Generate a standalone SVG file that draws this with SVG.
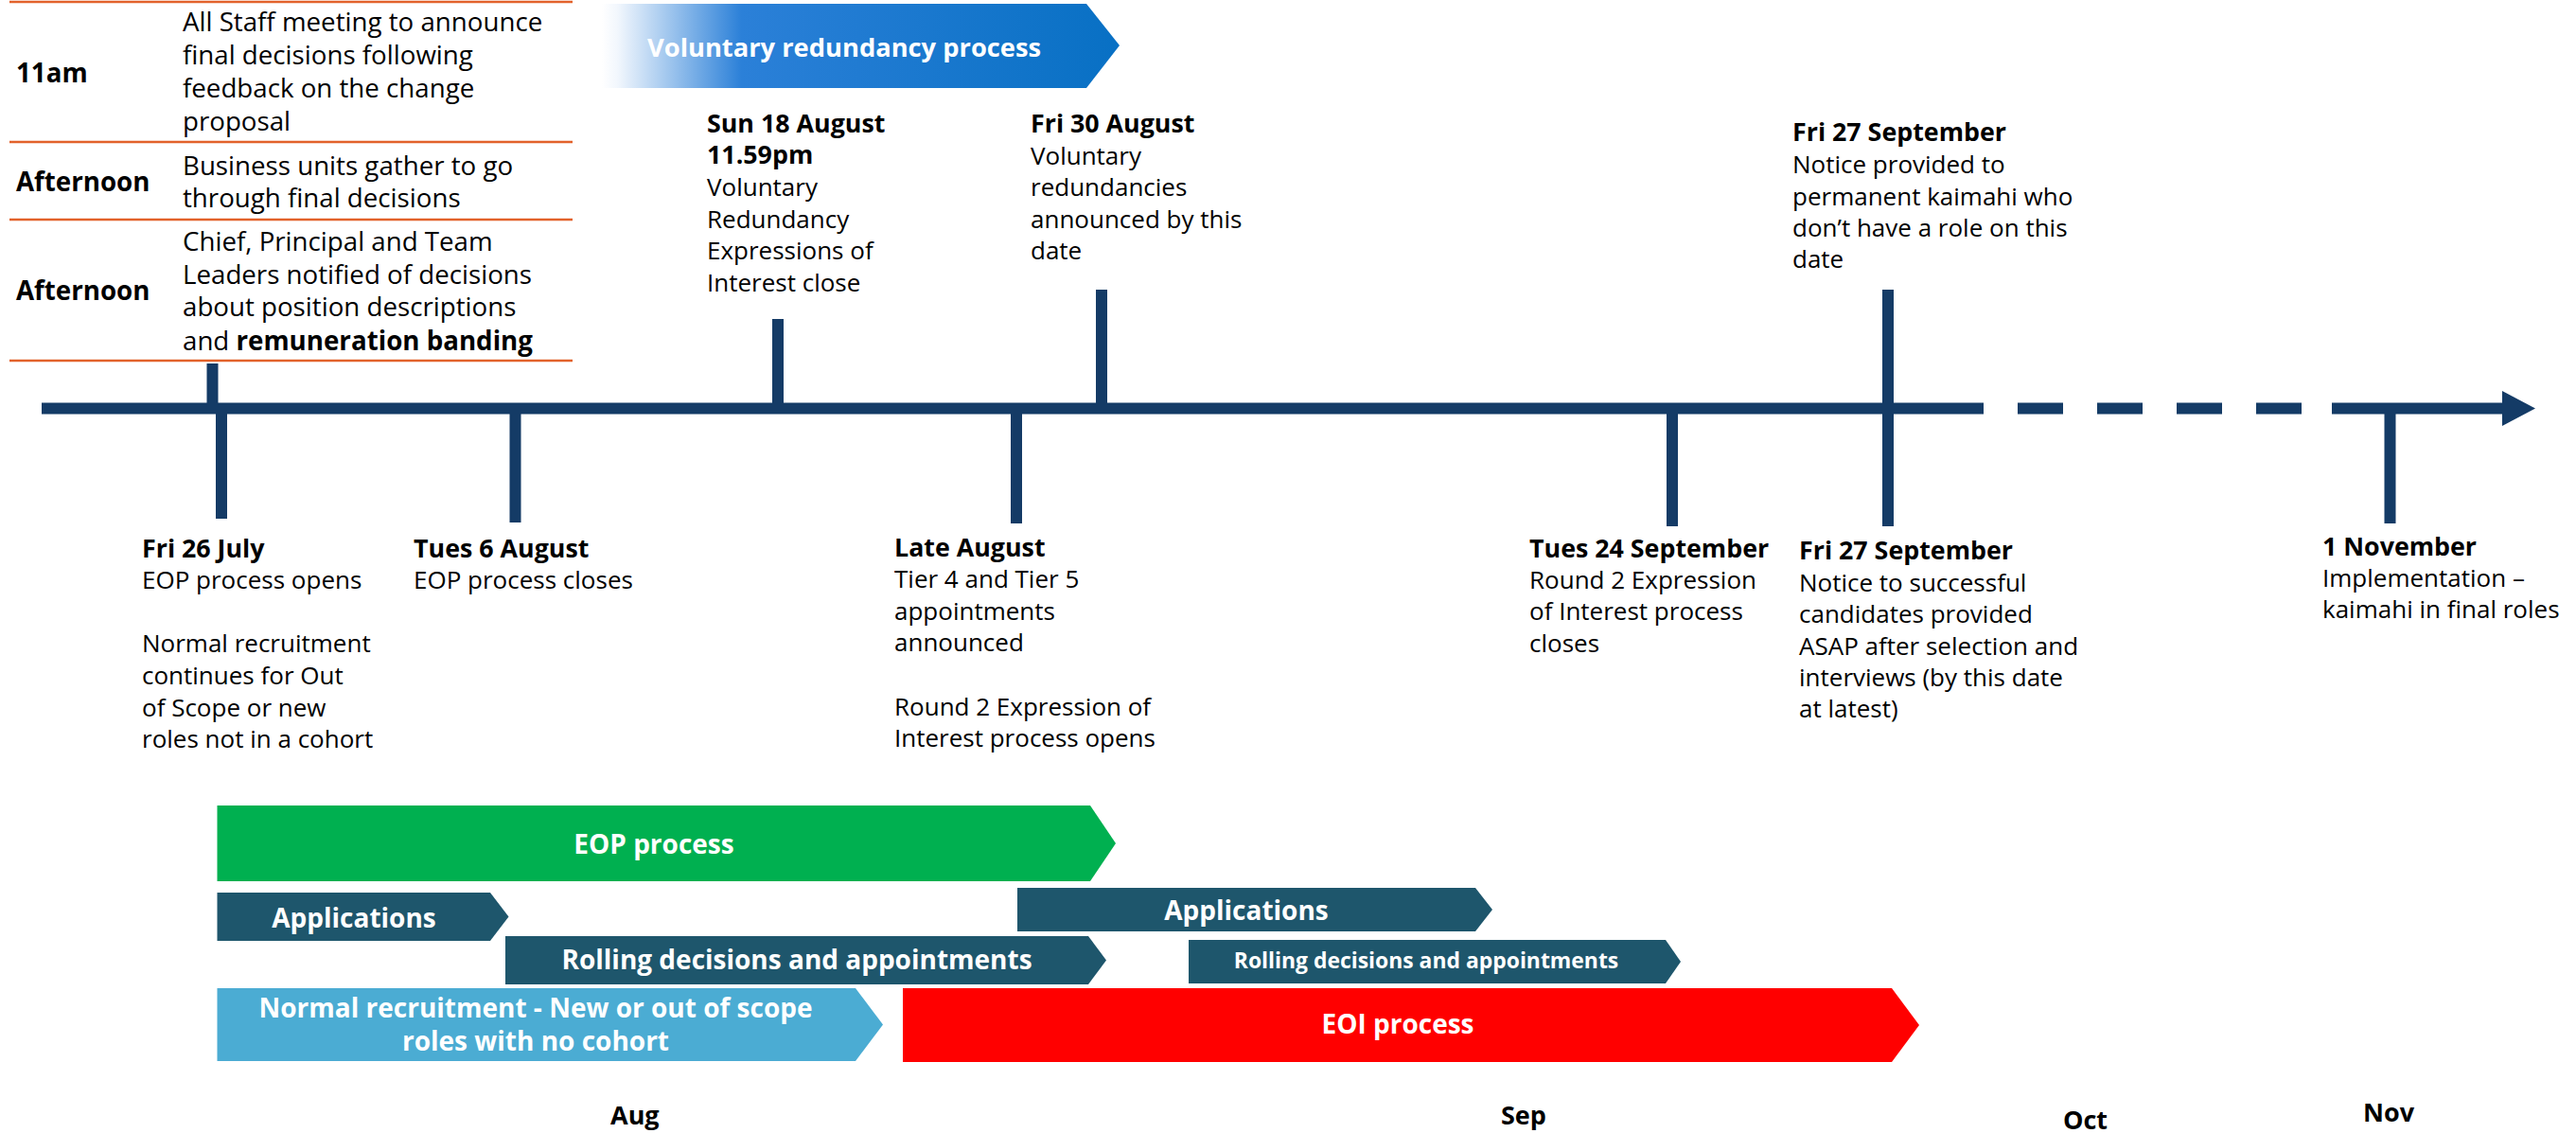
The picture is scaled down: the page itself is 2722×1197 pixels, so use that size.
<svg xmlns="http://www.w3.org/2000/svg" width="2722" height="1197" viewBox="0 0 2722 1197">
  <defs>
    <linearGradient id="vrGrad" x1="636" y1="0" x2="1183" y2="0" gradientUnits="userSpaceOnUse">
      <stop offset="0" stop-color="#ffffff"/>
      <stop offset="0.03" stop-color="#f2f7fd"/>
      <stop offset="0.27" stop-color="#2b80d8"/>
      <stop offset="1" stop-color="#0870c4"/>
    </linearGradient>
    <style>
      text { font-family: "Open Sans", "Noto Sans", "Liberation Sans", sans-serif; }
      .t { font-size: 26px; fill: #000; }
      .b { font-weight: 700; }
      .h { font-size: 26.8px; font-weight: 700; }
      .tbl { font-size: 27.7px; fill: #000; }
      .bar { font-size: 28px; font-weight: 700; fill: #fff; text-anchor: middle; }
      .rule { stroke: #e2622b; stroke-width: 2.5; }
      .navy { fill: #143b66; }
      .teal { fill: #1e566c; }
      .month { font-size: 27px; font-weight: 700; fill: #000; }
    </style>
  </defs>
  <rect width="2722" height="1197" fill="#ffffff"/>

  <!-- Announcement-day schedule -->
  <g id="schedule">
    <line class="rule" x1="10" y1="2" x2="605" y2="2"/>
    <line class="rule" x1="10" y1="150" x2="605" y2="150"/>
    <line class="rule" x1="10" y1="232" x2="605" y2="232"/>
    <line class="rule" x1="10" y1="381" x2="605" y2="381"/>
    <g id="row-11am">
      <text class="tbl b" x="17" y="87">11am</text>
      <text class="tbl" x="193" y="33">All Staff meeting to announce</text>
      <text class="tbl" x="193" y="68">final decisions following</text>
      <text class="tbl" x="193" y="103">feedback on the change</text>
      <text class="tbl" x="193" y="138">proposal</text>
    </g>
    <g id="row-afternoon-1">
      <text class="tbl b" x="17" y="202">Afternoon</text>
      <text class="tbl" x="193" y="185">Business units gather to go</text>
      <text class="tbl" x="193" y="219">through final decisions</text>
    </g>
    <g id="row-afternoon-2">
      <text class="tbl b" x="17" y="317">Afternoon</text>
      <text class="tbl" x="193" y="265">Chief, Principal and Team</text>
      <text class="tbl" x="193" y="300">Leaders notified of decisions</text>
      <text class="tbl" x="193" y="334">about position descriptions</text>
      <text class="tbl" x="193" y="370">and <tspan class="b">remuneration banding</tspan></text>
    </g>
  </g>

  <!-- Voluntary redundancy banner -->
  <g id="voluntary-redundancy">
    <polygon points="636,4 1148,4 1183,48 1148,93 636,93" fill="url(#vrGrad)"/>
    <text class="bar" style="text-anchor:start;font-size:27.3px" x="684" y="60">Voluntary redundancy process</text>
  </g>

  <!-- Timeline axis and date ticks -->
  <g id="connectors">
    <rect class="navy" x="44" y="425.5" width="2052" height="12"/>
    <rect class="navy" x="2132" y="425.5" width="48" height="12"/>
    <rect class="navy" x="2216" y="425.5" width="48" height="12"/>
    <rect class="navy" x="2300" y="425.5" width="48" height="12"/>
    <rect class="navy" x="2384" y="425.5" width="48" height="12"/>
    <rect class="navy" x="2464" y="425.5" width="182" height="12"/>
    <polygon class="navy" points="2644,413 2679,431.5 2644,450"/>
    <rect class="navy" x="218.5" y="384" width="12" height="47"/>
    <rect class="navy" x="228" y="431" width="12" height="117"/>
    <rect class="navy" x="538.5" y="431" width="12" height="121"/>
    <rect class="navy" x="816" y="337" width="12" height="94"/>
    <rect class="navy" x="1158" y="306" width="12" height="125"/>
    <rect class="navy" x="1068" y="431" width="12" height="122"/>
    <rect class="navy" x="1761" y="431" width="12" height="125"/>
    <rect class="navy" x="1989" y="306" width="12" height="250"/>
    <rect class="navy" x="2519.5" y="431" width="12" height="122"/>
  </g>

  <!-- Dated milestones above the axis -->
  <g id="sun-18-august">
    <text class="t h" x="747" y="140">Sun 18 August</text>
    <text class="t h" x="747" y="173">11.59pm</text>
    <text class="t" x="747" y="207">Voluntary</text>
    <text class="t" x="747" y="241">Redundancy</text>
    <text class="t" x="747" y="274">Expressions of</text>
    <text class="t" x="747" y="308">Interest close</text>
  </g>
  <g id="fri-30-august">
    <text class="t h" x="1089" y="140">Fri 30 August</text>
    <text class="t" x="1089" y="174">Voluntary</text>
    <text class="t" x="1089" y="207">redundancies</text>
    <text class="t" x="1089" y="241">announced by this</text>
    <text class="t" x="1089" y="274">date</text>
  </g>
  <g id="fri-27-september-notice">
    <text class="t h" x="1894" y="149">Fri 27 September</text>
    <text class="t" x="1894" y="183">Notice provided to</text>
    <text class="t" x="1894" y="217">permanent kaimahi who</text>
    <text class="t" x="1894" y="250">don’t have a role on this</text>
    <text class="t" x="1894" y="283">date</text>
  </g>

  <!-- Dated milestones below the axis -->
  <g id="fri-26-july">
    <text class="t h" x="150" y="589">Fri 26 July</text>
    <text class="t" x="150" y="622">EOP process opens</text>
    <text class="t" x="150" y="689">Normal recruitment</text>
    <text class="t" x="150" y="723">continues for Out</text>
    <text class="t" x="150" y="757">of Scope or new</text>
    <text class="t" x="150" y="790">roles not in a cohort</text>
  </g>
  <g id="tues-6-august">
    <text class="t h" x="437" y="589">Tues 6 August</text>
    <text class="t" x="437" y="622">EOP process closes</text>
  </g>
  <g id="late-august">
    <text class="t h" x="945" y="588">Late August</text>
    <text class="t" x="945" y="621">Tier 4 and Tier 5</text>
    <text class="t" x="945" y="655">appointments</text>
    <text class="t" x="945" y="688">announced</text>
    <text class="t" x="945" y="756">Round 2 Expression of</text>
    <text class="t" x="945" y="789">Interest process opens</text>
  </g>
  <g id="tues-24-september">
    <text class="t h" x="1616" y="589">Tues 24 September</text>
    <text class="t" x="1616" y="622">Round 2 Expression</text>
    <text class="t" x="1616" y="655">of Interest process</text>
    <text class="t" x="1616" y="689">closes</text>
  </g>
  <g id="fri-27-september-candidates">
    <text class="t h" x="1901" y="591">Fri 27 September</text>
    <text class="t" x="1901" y="625">Notice to successful</text>
    <text class="t" x="1901" y="658">candidates provided</text>
    <text class="t" x="1901" y="692">ASAP after selection and</text>
    <text class="t" x="1901" y="725">interviews (by this date</text>
    <text class="t" x="1901" y="758">at latest)</text>
  </g>
  <g id="1-november">
    <text class="t h" x="2454" y="587">1 November</text>
    <text class="t" x="2454" y="620">Implementation –</text>
    <text class="t" x="2454" y="653">kaimahi in final roles</text>
  </g>

  <!-- Process bars -->
  <g id="eop-process">
    <polygon points="229.5,851 1152,851 1179,891 1152,931 229.5,931" fill="#00b050"/>
    <text class="bar" x="691" y="902">EOP process</text>
  </g>
  <g id="eop-applications">
    <polygon class="teal" points="229.5,943 518,943 537.5,968.5 518,994 229.5,994"/>
    <text class="bar" x="374" y="980">Applications</text>
  </g>
  <g id="eop-rolling-decisions">
    <polygon class="teal" points="534,989 1150,989 1169,1014.5 1150,1040 534,1040"/>
    <text class="bar" x="842" y="1024">Rolling decisions and appointments</text>
  </g>
  <g id="normal-recruitment">
    <polygon points="229.5,1044 904,1044 933,1082.5 904,1121 229.5,1121" fill="#4bacd3"/>
    <text class="bar" x="566" y="1075">Normal recruitment - New or out of scope</text>
    <text class="bar" x="566" y="1110">roles with no cohort</text>
  </g>
  <g id="eoi-applications">
    <polygon class="teal" points="1075,938 1559,938 1577,961 1559,984 1075,984"/>
    <text class="bar" x="1317" y="972">Applications</text>
  </g>
  <g id="eoi-rolling-decisions">
    <polygon class="teal" points="1256,993 1760,993 1776,1016 1760,1039 1256,1039"/>
    <text class="bar" style="font-size:22.9px" x="1507" y="1023">Rolling decisions and appointments</text>
  </g>
  <g id="eoi-process">
    <polygon points="954,1044 1999,1044 2028,1083 1999,1122 954,1122" fill="#ff0000"/>
    <text class="bar" x="1477" y="1092">EOI process</text>
  </g>

  <!-- Month labels -->
  <g id="months">
    <text class="month" x="645" y="1188">Aug</text>
    <text class="month" x="1586" y="1188">Sep</text>
    <text class="month" x="2180" y="1193">Oct</text>
    <text class="month" x="2497" y="1185">Nov</text>
  </g>
</svg>
